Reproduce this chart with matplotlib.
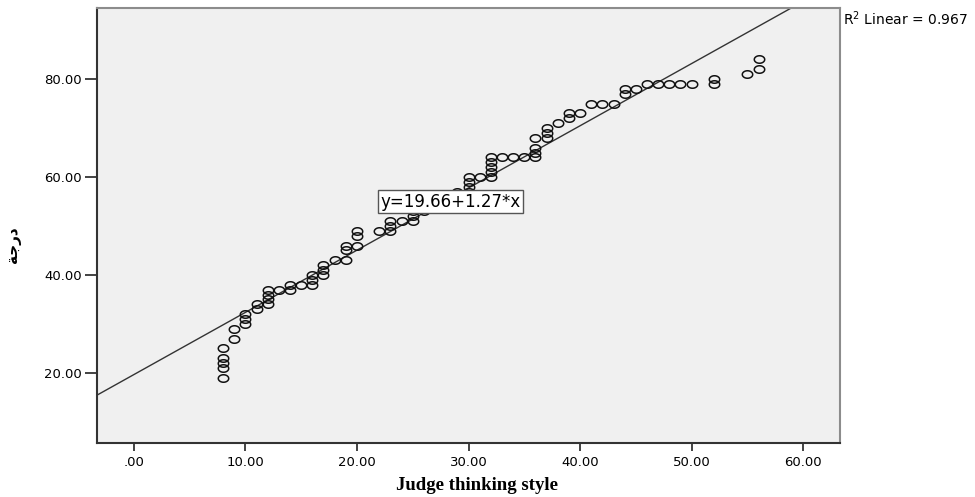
import matplotlib
matplotlib.use("Agg")
import matplotlib.pyplot as plt
import numpy as np
from matplotlib.path import Path

# observed points (judge thinking style vs score)
x_vals = [8, 8, 8, 8, 8, 9, 9, 10, 10, 10, 11, 11, 12, 12, 12, 12, 13, 14, 14, 15,
          16, 16, 16, 17, 17, 17, 18, 19, 19, 19, 20, 20, 20, 22, 23, 23, 23, 24,
          25, 25, 25, 26, 27, 28, 29, 30, 30, 30, 30, 31, 32, 32, 32, 32, 32,
          33, 34, 35, 36, 36, 36, 36, 37, 37, 37, 38, 39, 39, 40, 41, 42, 43,
          44, 44, 45, 46, 47, 48, 49, 50, 52, 52, 55, 56, 56]
y_vals = [19, 21, 22, 23, 25, 27, 29, 30, 31, 32, 33, 34, 34, 35, 36, 37, 37, 37, 38, 38,
          38, 39, 40, 40, 41, 42, 43, 43, 45, 46, 46, 48, 49, 49, 49, 50, 51, 51,
          51, 52, 53, 53, 54, 55, 57, 57, 58, 59, 60, 60, 60, 61, 62, 63, 64,
          64, 64, 64, 64, 65, 66, 68, 68, 69, 70, 71, 72, 73, 73, 75, 75, 75,
          77, 78, 78, 79, 79, 79, 79, 79, 79, 80, 81, 82, 84]

intercept = 19.66
slope = 1.27
r2 = 0.967

x_ticks = [0, 10, 20, 30, 40, 50, 60]
y_ticks = [20, 40, 60, 80]

fig = plt.figure(figsize=(9.75, 4.97), dpi=100)
ax = fig.add_axes([97 / 975, 54 / 497, 743 / 975, 435 / 497])
ax.set_facecolor("#f0f0f0")

# slightly flattened open circle, like the SPSS output
t = np.linspace(0, 2 * np.pi, 40)
ellipse = Path(np.column_stack([np.cos(t), 0.72 * np.sin(t)]), closed=True)

ax.plot(x_vals, y_vals, linestyle="none", marker=ellipse, markersize=7.5,
        markerfacecolor="none", markeredgecolor="#111111", markeredgewidth=1.1,
        zorder=3)

ax.axline((0, intercept), slope=slope, color="#333333", linewidth=1.0, zorder=2)

ax.set_xlim(-3.3, 63.3)
ax.set_ylim(5.7, 94.5)
ax.set_xticks(x_ticks)
ax.set_yticks(y_ticks)
ax.set_xticklabels([f"{v:.2f}".lstrip("0") if v == 0 else f"{v:.2f}" for v in x_ticks])
ax.set_yticklabels([f"{v:.2f}" for v in y_ticks])
ax.tick_params(axis="x", direction="out", length=6, width=1.2, color="#222222",
               labelsize=9.5, pad=3)
ax.tick_params(axis="y", direction="out", length=9, width=1.2, color="#222222",
               labelsize=9.5, pad=2)

for side in ["left", "bottom"]:
    ax.spines[side].set_color("#333333")
    ax.spines[side].set_linewidth(1.5)
for side in ["top", "right"]:
    ax.spines[side].set_color("#8c8c8c")
    ax.spines[side].set_linewidth(1.5)

ax.text(28.4, 54.9, f"y={intercept:.2f}+{slope:.2f}*x", fontsize=12,
        ha="center", va="center", zorder=5,
        bbox=dict(boxstyle="square,pad=0.15", facecolor="white",
                  edgecolor="#555555", linewidth=1.0))

ax.set_xlabel("Judge thinking style", family="Liberation Serif",
              fontweight="bold", fontsize=13.5)
ax.xaxis.set_label_coords((477 - 97) / 743, -(485 - 443) / 435)
ax.xaxis.label.set_va("center")

fig.text(843 / 975, 1 - 19 / 497, f"R$^2$ Linear = {r2}", fontsize=10,
         ha="left", va="center")

# y label: Arabic word in presentation forms (visual order)
fig.text(14 / 975, 1 - 245 / 497, "\uFE94\uFE9F\uFEAD\uFEA9", rotation=90,
         fontsize=11, fontweight="bold", ha="center", va="center")

fig.savefig("out.png", dpi=100)
